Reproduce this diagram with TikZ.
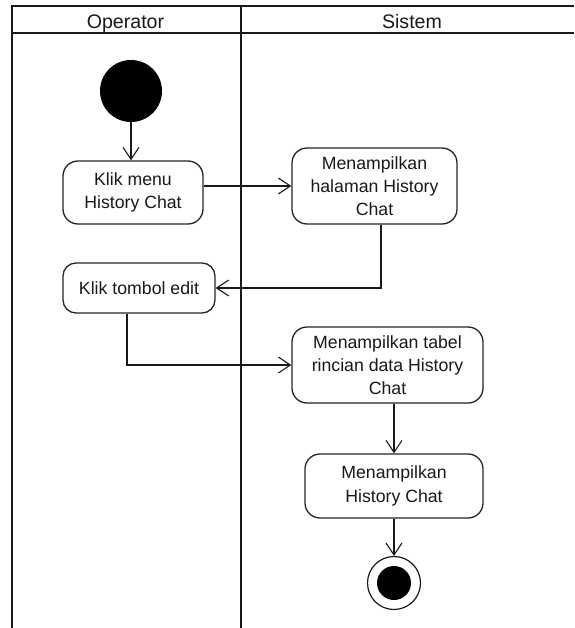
\documentclass[tikz,border=0pt]{standalone}
\usepackage{fontspec}
\setmainfont{Liberation Sans}
\usetikzlibrary{arrows.meta}
\begin{document}
\begin{tikzpicture}[x=1pt,y=-1pt,
  lane/.style={draw=black!90, line width=2pt},
  lanehead/.style={anchor=base, inner sep=0pt, text=black!90, font=\fontsize{19.6}{23}\selectfont},
  action/.style={draw=black!85, line width=1.3pt, rounded corners=15pt, align=center,
    inner sep=0pt, text=black!90, font=\fontsize{17.7}{23.3}\selectfont},
  flow/.style={draw=black!90, line width=1.1pt,
    -{Straight Barb[length=12pt,width=16pt,line width=1.1pt]}},
]
\useasboundingbox (0,0) rectangle (574,628);
\fill[white] (0,0) rectangle (574,628);

% swimlane frame
\draw[lane] (11,6.5) -- (574,6.5);
\draw[lane] (11,33.5) -- (574,33.5);
\draw[lane] (11.5,6.5) -- (11.5,628);
\draw[lane, line width=2.8pt] (241,6.5) -- (241,628);
\node[lanehead] (opLabel) at (125.5,28.7) {Operator};
\node[lanehead] (sysLabel) at (412,28.7) {Sistem};

% start and end
\node[circle, fill=black, minimum size=62pt, inner sep=0pt] (start) at (131,91) {};
\node[circle, draw=black!90, line width=1.2pt, minimum size=53pt, inner sep=0pt] (end) at (394,583) {};
\node[circle, fill=black, minimum size=34pt, inner sep=0pt] (endDot) at (end) {};

% actions
\node[action, minimum width=140pt, minimum height=63pt] (klik) at (133,192.5) {Klik menu\\History Chat};
\node[action, minimum width=165pt, minimum height=76pt] (halaman) at (374.5,186) {Menampilkan\\halaman History\\Chat};
\node[action, rounded corners=13pt, minimum width=152pt, minimum height=50pt] (edit) at (139,288) {Klik tombol edit};
\node[action, minimum width=191pt, minimum height=76pt] (tabel) at (387.5,365) {Menampilkan tabel\\rincian data History\\Chat};
\node[action, minimum width=178pt, minimum height=64pt] (history) at (394,486) {Menampilkan\\History Chat};

% control flow
\draw[flow] (start.south) -- (start.south |- klik.north);
\draw[flow] (klik.east |- halaman.west) -- (halaman.west);
\draw[flow] ([xshift=6.5pt]halaman.south) |- (edit.east);
\draw[flow] ([xshift=-12pt]edit.south) |- (tabel.west);
\draw[flow] (tabel.south -| history.north) -- (history.north);
\draw[flow] (history.south) -- (end.north);
\end{tikzpicture}
\end{document}
